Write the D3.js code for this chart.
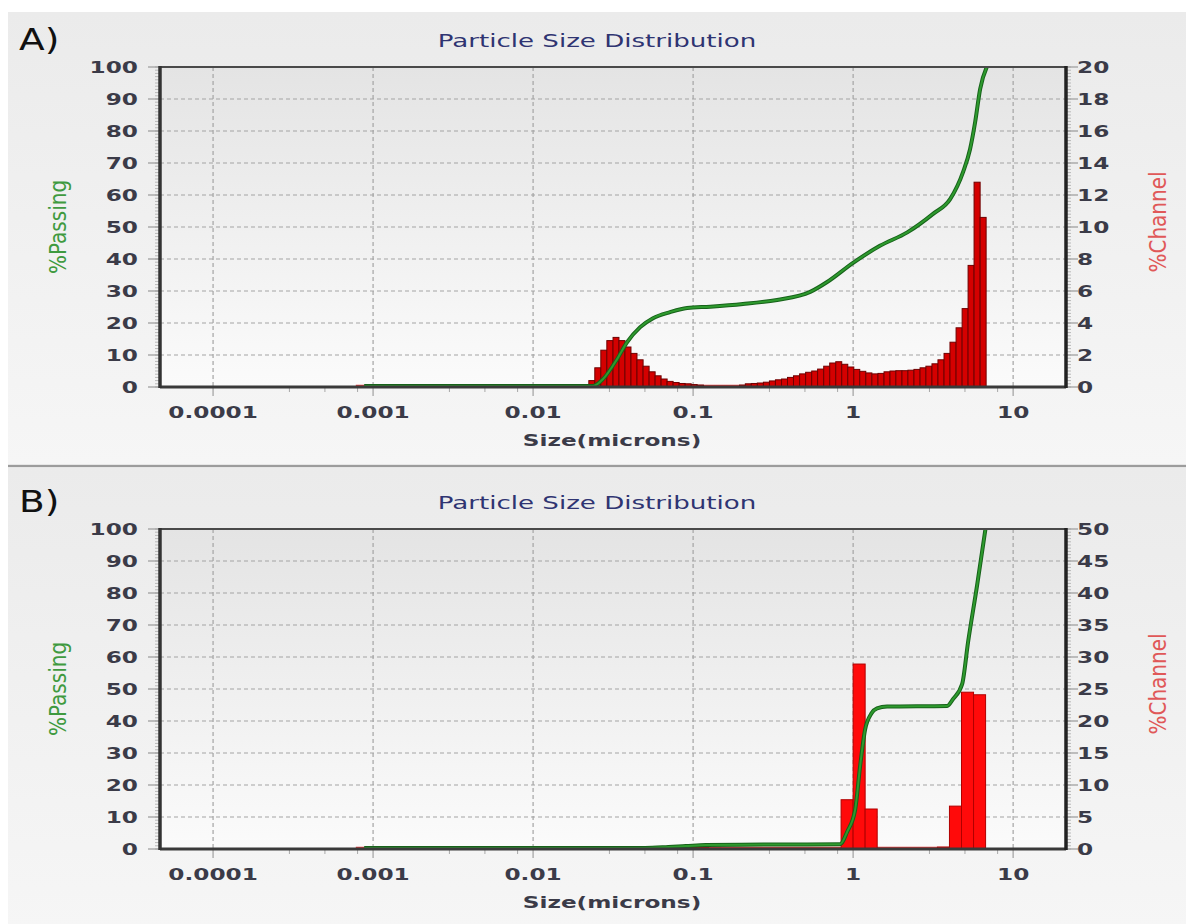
<!DOCTYPE html>
<html>
<head>
<meta charset="utf-8">
<script src="https://cdn.jsdelivr.net/npm/d3@7"></script>
<style>
  body { margin: 0; background: #fff; }
  text { font-family: "DejaVu Sans", Verdana, sans-serif; }
</style>
</head>
<body>
<svg id="chart" width="1192" height="924"></svg>
<script>
// ---- data ----
// channel edges (microns) and %channel per channel, panel A
var edgesA = [0.0223, 0.0243, 0.0265, 0.0289, 0.0316, 0.0344, 0.0375, 0.0409, 0.0446, 0.0487,
  0.0531, 0.0579, 0.0631, 0.0688, 0.0750, 0.0818, 0.0892, 0.0973, 0.106, 0.116,
  0.126, 0.138, 0.150, 0.164, 0.178, 0.195, 0.212, 0.231, 0.252, 0.275,
  0.300, 0.327, 0.357, 0.389, 0.424, 0.463, 0.505, 0.551, 0.600, 0.655,
  0.714, 0.779, 0.849, 0.926, 1.01, 1.10, 1.20, 1.31, 1.43, 1.56,
  1.70, 1.85, 2.02, 2.20, 2.40, 2.62, 2.85, 3.11, 3.39, 3.70,
  4.03, 4.40, 4.80, 5.23, 5.70, 6.22, 6.78];
var channelA = [0.4, 1.2, 2.3, 2.9, 3.1, 2.9, 2.5, 2.1, 1.7, 1.3,
  0.95, 0.7, 0.5, 0.35, 0.28, 0.22, 0.2, 0.15, 0.12,
  0, 0, 0, 0, 0, 0,
  0.12, 0.2, 0.22, 0.25, 0.3, 0.38, 0.45, 0.5, 0.6, 0.7,
  0.82, 0.92, 1.0, 1.12, 1.3, 1.5, 1.58, 1.42, 1.25, 1.1,
  0.98, 0.88, 0.82, 0.85, 0.95, 1.0, 1.02, 1.02, 1.05, 1.1,
  1.2, 1.3, 1.45, 1.7, 2.1, 2.8, 3.7, 4.9, 7.6, 12.8, 10.6];
// cumulative %passing curve, panel A
var passSizeA = [0.00088, 0.0237, 0.0274, 0.0335, 0.0387, 0.0467, 0.0562, 0.0718, 0.0917, 0.128,
  0.205, 0.335, 0.539, 0.688, 1.0, 1.47, 2.18, 3.16, 4.04, 4.87, 5.38, 5.79, 6.22, 6.88];
var passValA = [0, 0, 2.2, 8.4, 13.7, 18.4, 21.2, 23.1, 24.4, 24.8,
  25.6, 26.9, 29.4, 32.5, 38.5, 43.8, 48, 53.8, 58.4, 66.9, 74, 82.5, 92.8, 100];

// panel B
var edgesB = [0.0442, 0.0526, 0.0625, 0.0743, 0.0884, 0.105, 0.125, 0.149, 0.177, 0.210,
  0.250, 0.297, 0.354, 0.420, 0.500, 0.595, 0.707, 0.841, 1.000, 1.189,
  1.414, 1.682, 2.000, 2.378, 2.828, 3.364, 4.000, 4.757, 5.657, 6.727];
var channelB = [0.03, 0.08, 0.15, 0.2, 0.22, 0.2, 0.1,
  0.02, 0.02, 0.02, 0.02, 0.02, 0.02, 0.02, 0.02, 0.02, 0.02,
  7.7, 28.9, 6.25,
  0, 0, 0, 0, 0,
  0.3, 6.7, 24.5, 24.1];
var passSizeB = [0.00088, 0.05, 0.07, 0.09, 0.12, 0.2, 0.5, 0.83, 0.917, 1.03,
  1.106, 1.188, 1.3, 1.41, 1.63, 3.87, 4.22, 4.8, 5.23, 5.95, 6.73];
var passValB = [0, 0, 0.3, 0.6, 0.95, 1.05, 1.1, 1.2, 5, 12,
  25.6, 37, 42, 43.6, 44.2, 44.4, 46.6, 51.2, 64.4, 82, 100];

var xTicks = [0.0001, 0.001, 0.01, 0.1, 1, 10];
var xTickLabels = ["0.0001", "0.001", "0.01", "0.1", "1", "10"];
var leftTicks = [0, 10, 20, 30, 40, 50, 60, 70, 80, 90, 100];
var rightTicksA = [0, 2, 4, 6, 8, 10, 12, 14, 16, 18, 20];
var rightTicksB = [0, 5, 10, 15, 20, 25, 30, 35, 40, 45, 50];

// ---- layout ----
var SX = 1.45;               // the picture is stretched sideways
var plotL = 160, plotR = 1066;
var plotT = 67, plotB = 387;
var xDomain = [0.0000466, 21.4];

var svg = d3.select("#chart");
var defs = svg.append("defs");

var pg = defs.append("linearGradient").attr("id", "panelBg")
  .attr("x1", 0).attr("y1", 0).attr("x2", 0).attr("y2", 1);
pg.append("stop").attr("offset", "0%").attr("stop-color", "#ebebeb");
pg.append("stop").attr("offset", "100%").attr("stop-color", "#f6f6f6");

var ag = defs.append("linearGradient").attr("id", "plotBg")
  .attr("x1", 0).attr("y1", 0).attr("x2", 0).attr("y2", 1);
ag.append("stop").attr("offset", "0%").attr("stop-color", "#e4e4e4");
ag.append("stop").attr("offset", "100%").attr("stop-color", "#fbfbfb");

defs.append("clipPath").attr("id", "plotClip")
  .append("rect").attr("x", plotL).attr("y", plotT - 1)
  .attr("width", plotR - plotL).attr("height", plotB - plotT + 2);

function stretched(sel, x, y, extra) {
  sel.attr("transform", "translate(" + x + "," + y + ") scale(" + SX + ",1)" + (extra || ""));
  return sel;
}

function drawPanel(p) {
  var g = svg.append("g").attr("transform", "translate(0," + p.offset + ")");

  var x = d3.scaleLog().domain(xDomain).range([plotL, plotR]);
  var yL = d3.scaleLinear().domain([0, 100]).range([plotB, plotT]);
  var yR = d3.scaleLinear().domain([0, p.rightMax]).range([plotB, plotT]);

  // background
  g.append("rect").attr("x", 8).attr("y", p.bgTop).attr("width", 1178).attr("height", p.bgH)
    .attr("fill", "url(#panelBg)");
  g.append("rect").attr("x", plotL).attr("y", plotT)
    .attr("width", plotR - plotL).attr("height", plotB - plotT)
    .attr("fill", "url(#plotBg)");

  // grid
  g.selectAll(".vgrid").data(xTicks).enter().append("line")
    .attr("x1", d => x(d)).attr("x2", d => x(d))
    .attr("y1", plotT).attr("y2", plotB)
    .attr("stroke", "#a4a4a4").attr("stroke-width", 1.2).attr("stroke-dasharray", "4,3");
  g.selectAll(".hgrid").data(leftTicks.slice(1, -1)).enter().append("line")
    .attr("x1", plotL).attr("x2", plotR)
    .attr("y1", d => yL(d)).attr("y2", d => yL(d))
    .attr("stroke", "#a4a4a4").attr("stroke-width", 1.2).attr("stroke-dasharray", "4,3");

  // ruler ticks on both sides
  var fine = d3.range(0, 101, 1);
  g.selectAll(".lmin").data(fine).enter().append("line")
    .attr("x1", plotL - 5).attr("x2", plotL)
    .attr("y1", d => yL(d)).attr("y2", d => yL(d))
    .attr("stroke", "#b8b8b8").attr("stroke-width", 1);
  g.selectAll(".lmaj").data(leftTicks).enter().append("line")
    .attr("x1", plotL - 12).attr("x2", plotL)
    .attr("y1", d => yL(d)).attr("y2", d => yL(d))
    .attr("stroke", "#9a9a9a").attr("stroke-width", 1.2);
  var fineR = d3.range(0, 101, 1).map(d => d * p.rightMax / 100);
  g.selectAll(".rmin").data(fineR).enter().append("line")
    .attr("x1", plotR).attr("x2", plotR + 5)
    .attr("y1", d => yR(d)).attr("y2", d => yR(d))
    .attr("stroke", "#b8b8b8").attr("stroke-width", 1);
  g.selectAll(".rmaj").data(p.rightTicks).enter().append("line")
    .attr("x1", plotR).attr("x2", plotR + 12)
    .attr("y1", d => yR(d)).attr("y2", d => yR(d))
    .attr("stroke", "#9a9a9a").attr("stroke-width", 1.2);

  // x ticks
  var minor = [];
  xTicks.forEach(function(t) { [3, 5, 8].forEach(function(m) { if (t * m < xDomain[1]) minor.push(t * m); }); });
  g.selectAll(".xmin").data(minor).enter().append("line")
    .attr("x1", d => x(d)).attr("x2", d => x(d))
    .attr("y1", plotB).attr("y2", plotB + 5)
    .attr("stroke", "#a8a8a8").attr("stroke-width", 1);
  g.selectAll(".xmaj").data(xTicks).enter().append("line")
    .attr("x1", d => x(d)).attr("x2", d => x(d))
    .attr("y1", plotB).attr("y2", plotB + 9)
    .attr("stroke", "#a0a0a0").attr("stroke-width", 1.2);

  // histogram
  var bins = p.channel.map(function(v, i) { return { x0: p.edges[i], x1: p.edges[i + 1], v: v }; })
    .filter(d => d.v > 0);
  g.append("line")
    .attr("x1", x(0.00078)).attr("x2", x(p.edges[p.edges.length - 1]))
    .attr("y1", yR(0) - 1).attr("y2", yR(0) - 1)
    .attr("stroke", "#e23a3a").attr("stroke-width", 2.5);
  g.selectAll(".bar").data(bins).enter().append("rect")
    .attr("x", d => x(d.x0))
    .attr("width", d => x(d.x1) - x(d.x0))
    .attr("y", d => yR(d.v))
    .attr("height", d => yR(0) - yR(d.v))
    .attr("fill", p.barFill).attr("stroke", p.barStroke).attr("stroke-width", 1);

  // %passing curve
  var pts = p.passSize.map(function(s, i) { return [s, p.passVal[i]]; });
  var line = d3.line()
    .x(d => x(d[0])).y(d => yL(d[1]) - 1)
    .curve(d3.curveMonotoneX);
  var cg = g.append("g").attr("clip-path", "url(#plotClip)");
  cg.append("path").datum(pts).attr("d", line)
    .attr("fill", "none").attr("stroke", "#17621a").attr("stroke-width", 4);
  cg.append("path").datum(pts).attr("d", line)
    .attr("fill", "none").attr("stroke", "#2e9a2e").attr("stroke-width", 2);

  // frame
  g.append("line").attr("x1", plotL).attr("x2", plotR).attr("y1", plotT).attr("y2", plotT)
    .attr("stroke", "#4a4a4a").attr("stroke-width", 2);
  g.append("line").attr("x1", plotL).attr("x2", plotR).attr("y1", plotB).attr("y2", plotB)
    .attr("stroke", "#3a3a3a").attr("stroke-width", 3);
  g.append("line").attr("x1", plotL).attr("x2", plotL).attr("y1", plotT - 1).attr("y2", plotB + 1)
    .attr("stroke", "#333").attr("stroke-width", 3.5);
  g.append("line").attr("x1", plotR).attr("x2", plotR).attr("y1", plotT - 1).attr("y2", plotB + 1)
    .attr("stroke", "#222").attr("stroke-width", 3.5);

  // tick labels
  g.selectAll(".xl").data(xTicks).enter().append("text")
    .each(function(d, i) { stretched(d3.select(this), x(d), plotB + 31); })
    .attr("text-anchor", "middle").attr("font-size", 16).attr("font-weight", "bold")
    .attr("fill", "#3b3b48").text((d, i) => xTickLabels[i]);
  g.selectAll(".yl").data(leftTicks).enter().append("text")
    .each(function(d) { stretched(d3.select(this), 138, yL(d) + 6); })
    .attr("text-anchor", "end").attr("font-size", 16).attr("font-weight", "bold")
    .attr("fill", "#3b3b48").text(d => d);
  g.selectAll(".yr").data(p.rightTicks).enter().append("text")
    .each(function(d) { stretched(d3.select(this), 1077, yR(d) + 6); })
    .attr("text-anchor", "start").attr("font-size", 16).attr("font-weight", "bold")
    .attr("fill", "#3b3b48").text(d => d);

  // titles
  stretched(g.append("text"), 597, 47)
    .attr("text-anchor", "middle").attr("font-size", 18)
    .attr("fill", "#2f3472").text("Particle Size Distribution");
  stretched(g.append("text"), 612, plotB + 59)
    .attr("text-anchor", "middle").attr("font-size", 16).attr("font-weight", "bold")
    .attr("fill", "#3b3b48").text("Size(microns)");
  g.append("text").attr("transform", "translate(19,50) scale(1.25,1)")
    .attr("font-family", "Liberation Sans, Arial, sans-serif")
    .attr("font-size", 30).attr("fill", "#111").text(p.letter);
  g.append("text").attr("transform", "translate(66,227) scale(1.15,1) rotate(-90)")
    .attr("text-anchor", "middle").attr("font-size", 20)
    .attr("fill", "#3f9a3f").text("%Passing");
  g.append("text").attr("transform", "translate(1166,222) scale(1.15,1) rotate(-90)")
    .attr("text-anchor", "middle").attr("font-size", 20)
    .attr("fill", "#e05858").text("%Channel");
}

drawPanel({ offset: 0, bgTop: 12, bgH: 452, letter: "A)", rightMax: 20, rightTicks: rightTicksA,
  edges: edgesA, channel: channelA, passSize: passSizeA, passVal: passValA,
  barFill: "#d40000", barStroke: "#6e0000" });
drawPanel({ offset: 462, bgTop: 6, bgH: 462, letter: "B)", rightMax: 50, rightTicks: rightTicksB,
  edges: edgesB, channel: channelB, passSize: passSizeB, passVal: passValB,
  barFill: "#ff0a0a", barStroke: "#b00000" });

// separator between the panels
svg.append("line").attr("x1", 8).attr("x2", 1186).attr("y1", 466).attr("y2", 466)
  .attr("stroke", "#9c9c9c").attr("stroke-width", 2.5);
</script>
</body>
</html>
